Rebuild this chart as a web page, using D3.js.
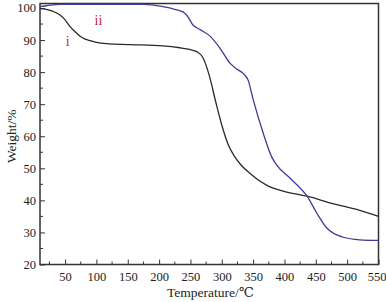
<!DOCTYPE html>
<html>
<head>
<meta charset="utf-8">
<script src="https://cdn.jsdelivr.net/npm/d3@7"></script>
<style>
  body { margin: 0; background: #fff; }
  text { font-family: "Liberation Serif", "DejaVu Serif", serif; }
</style>
</head>
<body>
<div id="chart"></div>
<script>
// Chart data
var tempsI = [10, 20, 30, 42, 50, 58, 66, 74, 82, 90, 100, 116, 154, 206, 233, 250, 260, 270, 280, 290, 300, 310, 320, 330, 345, 372, 398, 436, 477, 520, 550];
var weightI = [99.8, 99.6, 99.0, 97.8, 96.3, 94.2, 92.6, 91.2, 90.3, 89.8, 89.3, 88.9, 88.6, 88.2, 87.6, 87.0, 86.4, 84.5, 79, 71, 63.5, 57.5, 53.8, 51.2, 48.4, 44.7, 42.9, 41.3, 39.0, 36.9, 35.0];

var tempsII = [10, 20, 30, 42, 60, 100, 175, 206, 225, 238, 245, 254, 265, 281, 297, 313, 325, 334, 342, 350, 366, 380, 388, 409, 436, 452, 468, 494, 520, 550];
var weightII = [100.4, 100.7, 101.0, 101.1, 101.1, 101.1, 101.1, 100.4, 99.6, 98.8, 97.5, 94.7, 93.3, 91.3, 87.5, 82.8, 80.8, 79.6, 77.5, 71.5, 61, 53.4, 50.9, 46.9, 41.3, 35.9, 31.3, 28.5, 27.7, 27.5];

var xTickLabels = [50, 100, 150, 200, 250, 300, 350, 400, 450, 500, 550];
var yTickLabels = [20, 30, 40, 50, 60, 70, 80, 90, 100];

var svgWidth = 386;
var svgHeight = 302;

var margin = { top: 3.5, right: 7.5, bottom: 37.5, left: 40 };
var width = svgWidth - margin.left - margin.right;
var height = svgHeight - margin.top - margin.bottom;

var svg = d3.select("#chart")
  .append("svg")
  .attr("width", svgWidth)
  .attr("height", svgHeight);

var chartGroup = svg.append("g")
  .attr("transform", `translate(${margin.left}, ${margin.top})`);

var xScale = d3.scaleLinear().domain([10, 550]).range([0, width]);
var yScale = d3.scaleLinear().domain([20, 101.4]).range([height, 0]);

// minor ticks (inside)
var xMinor = d3.range(25, 551, 50);
var yMinor = d3.range(25, 100, 10);

var bottomAxis = d3.axisBottom(xScale)
  .tickValues(xTickLabels)
  .tickSize(-5)
  .tickPadding(8);
var leftAxis = d3.axisLeft(yScale)
  .tickValues(yTickLabels)
  .tickSize(-5)
  .tickPadding(4);

var xAxis = chartGroup.append("g")
  .attr("transform", `translate(0, ${height})`)
  .call(bottomAxis);
var yAxis = chartGroup.append("g")
  .call(leftAxis);

[xAxis, yAxis].forEach(function(ax) {
  ax.select(".domain").remove();
  ax.selectAll("line").attr("stroke", "#333").attr("stroke-width", 1);
  ax.selectAll("text").attr("fill", "#222").style("font-size", "12.5px");
});

// last x label sits on the edge, nudge it in a bit
xAxis.selectAll(".tick text")
  .filter(d => d === 550)
  .attr("dx", -2);

chartGroup.selectAll(".xminor")
  .data(xMinor)
  .enter()
  .append("line")
  .attr("x1", d => xScale(d)).attr("x2", d => xScale(d))
  .attr("y1", height).attr("y2", height - 3)
  .attr("stroke", "#333");

chartGroup.selectAll(".yminor")
  .data(yMinor)
  .enter()
  .append("line")
  .attr("x1", 0).attr("x2", 3)
  .attr("y1", d => yScale(d)).attr("y2", d => yScale(d))
  .attr("stroke", "#333");

// frame
chartGroup.append("rect")
  .attr("x", 0).attr("y", 0)
  .attr("width", width).attr("height", height)
  .attr("fill", "none")
  .attr("stroke", "#333")
  .attr("stroke-width", 1.5);

var line = d3.line()
  .x(d => xScale(d[0]))
  .y(d => yScale(d[1]))
  .curve(d3.curveMonotoneX);

chartGroup.append("path")
  .datum(d3.zip(tempsI, weightI))
  .attr("d", line)
  .attr("fill", "none")
  .attr("stroke", "#2a2a2a")
  .attr("stroke-width", 1.3);

chartGroup.append("path")
  .datum(d3.zip(tempsII, weightII))
  .attr("d", line)
  .attr("fill", "none")
  .attr("stroke", "#3d3d94")
  .attr("stroke-width", 1.3);

// curve labels
chartGroup.append("text")
  .attr("x", xScale(51)).attr("y", yScale(88))
  .attr("fill", "#c0283a")
  .style("font-size", "14px")
  .text("i");
chartGroup.append("text")
  .attr("x", xScale(97)).attr("y", yScale(94.6))
  .attr("fill", "#c0283a")
  .style("font-size", "14px")
  .text("ii");

// axis titles
svg.append("text")
  .attr("x", margin.left + xScale(282))
  .attr("y", 297)
  .attr("text-anchor", "middle")
  .attr("fill", "#222")
  .style("font-size", "13.5px")
  .text("Temperature/℃");

svg.append("text")
  .attr("transform", `translate(16, ${margin.top + yScale(60)}) rotate(-90)`)
  .attr("text-anchor", "middle")
  .attr("fill", "#222")
  .style("font-size", "13.5px")
  .text("Weight/%");
</script>
</body>
</html>
